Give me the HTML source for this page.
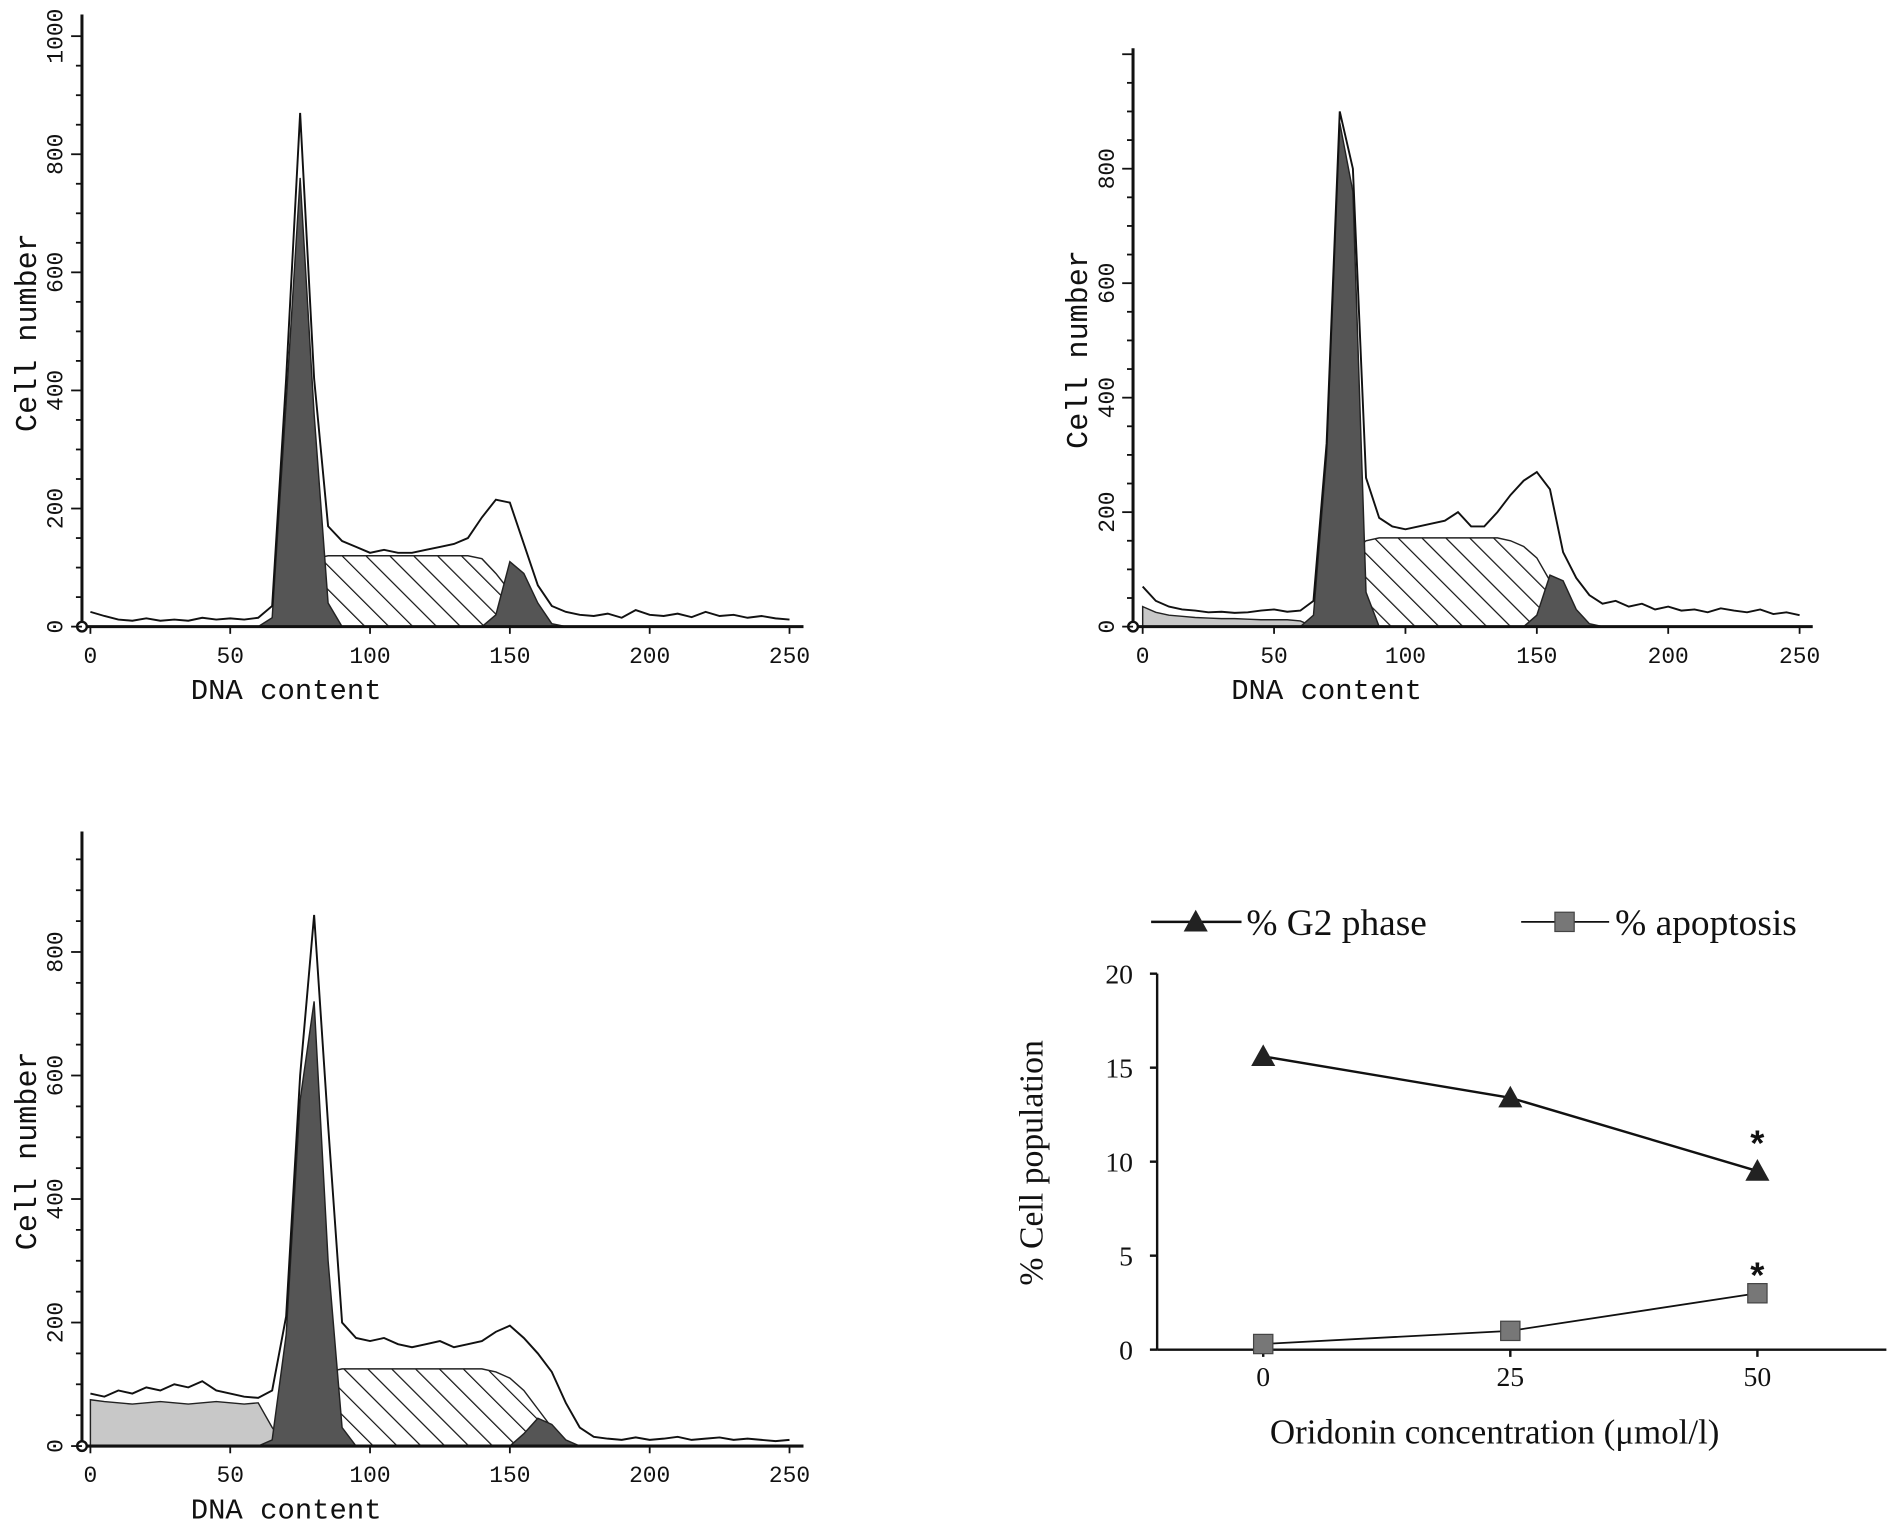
<!DOCTYPE html>
<html><head><meta charset="utf-8"><style>
html,body{margin:0;padding:0;background:#fff}
svg{display:block}
text{font-family:"Liberation Mono",monospace;fill:#111}
.ser{font-family:"Liberation Serif",serif}
</style></head><body>
<svg id="fig" width="1890" height="1528" viewBox="0 0 1568 1268" preserveAspectRatio="none" xmlns="http://www.w3.org/2000/svg">
<defs>
<pattern id="hatch" patternUnits="userSpaceOnUse" width="14" height="14" patternTransform="rotate(-45)">
<rect width="14" height="14" fill="#fff"/><line x1="0" y1="0" x2="0" y2="14" stroke="#111" stroke-width="2"/>
</pattern>
</defs>
</svg>
<script>
// ---- histogram data (DNA content bins of 5) ----
const bins=[0,5,10,15,20,25,30,35,40,45,50,55,60,65,70,75,80,85,90,95,100,105,110,115,120,125,130,135,140,145,150,155,160,165,170,175,180,185,190,195,200,205,210,215,220,225,230,235,240,245,250];
const h1Outline=[25,18,12,10,14,10,12,10,15,12,14,12,15,35,420,870,420,170,145,135,125,130,125,125,130,135,140,150,185,215,210,140,70,35,25,20,18,22,15,28,20,18,22,16,25,18,20,15,18,14,12];
const h1G1=[0,0,0,0,0,0,0,0,0,0,0,0,0,15,380,760,360,40,0,0,0,0,0,0,0,0,0,0,0,0,0,0,0,0,0,0,0,0,0,0,0,0,0,0,0,0,0,0,0,0,0];
const h1S=[0,0,0,0,0,0,0,0,0,0,0,0,0,0,10,70,115,120,120,120,120,120,120,120,120,120,120,120,115,90,60,30,10,0,0,0,0,0,0,0,0,0,0,0,0,0,0,0,0,0,0];
const h1G2=[0,0,0,0,0,0,0,0,0,0,0,0,0,0,0,0,0,0,0,0,0,0,0,0,0,0,0,0,0,20,110,90,40,5,0,0,0,0,0,0,0,0,0,0,0,0,0,0,0,0,0];
const h1Apo=[0,0,0,0,0,0,0,0,0,0,0,0,0,0,0,0,0,0,0,0,0,0,0,0,0,0,0,0,0,0,0,0,0,0,0,0,0,0,0,0,0,0,0,0,0,0,0,0,0,0,0];

const h2Outline=[70,45,35,30,28,25,26,24,25,28,30,26,28,45,320,900,800,260,190,175,170,175,180,185,200,175,175,200,230,255,270,240,130,85,55,40,45,35,40,30,35,28,30,25,32,28,25,30,22,25,20];
const h2G1=[0,0,0,0,0,0,0,0,0,0,0,0,0,20,300,880,760,60,0,0,0,0,0,0,0,0,0,0,0,0,0,0,0,0,0,0,0,0,0,0,0,0,0,0,0,0,0,0,0,0,0];
const h2S=[0,0,0,0,0,0,0,0,0,0,0,0,0,0,10,60,130,150,155,155,155,155,155,155,155,155,155,155,150,140,120,80,40,10,0,0,0,0,0,0,0,0,0,0,0,0,0,0,0,0,0];
const h2G2=[0,0,0,0,0,0,0,0,0,0,0,0,0,0,0,0,0,0,0,0,0,0,0,0,0,0,0,0,0,0,20,90,80,30,5,0,0,0,0,0,0,0,0,0,0,0,0,0,0,0,0];
const h2Apo=[35,25,20,18,16,15,14,14,13,12,12,12,10,0,0,0,0,0,0,0,0,0,0,0,0,0,0,0,0,0,0,0,0,0,0,0,0,0,0,0,0,0,0,0,0,0,0,0,0,0,0];

const h3Outline=[85,80,90,85,95,90,100,95,105,90,85,80,78,90,210,600,860,520,200,175,170,175,165,160,165,170,160,165,170,185,195,175,150,120,70,30,15,12,10,14,10,12,15,10,12,14,10,12,10,8,10];
const h3G1=[0,0,0,0,0,0,0,0,0,0,0,0,0,10,180,560,720,300,30,0,0,0,0,0,0,0,0,0,0,0,0,0,0,0,0,0,0,0,0,0,0,0,0,0,0,0,0,0,0,0,0];
const h3S=[0,0,0,0,0,0,0,0,0,0,0,0,0,0,0,20,80,120,125,125,125,125,125,125,125,125,125,125,125,120,110,90,60,30,0,0,0,0,0,0,0,0,0,0,0,0,0,0,0,0,0];
const h3G2=[0,0,0,0,0,0,0,0,0,0,0,0,0,0,0,0,0,0,0,0,0,0,0,0,0,0,0,0,0,0,0,20,45,35,10,0,0,0,0,0,0,0,0,0,0,0,0,0,0,0,0];
const h3Apo=[75,72,70,68,70,72,70,68,70,72,70,68,70,30,0,0,0,0,0,0,0,0,0,0,0,0,0,0,0,0,0,0,0,0,0,0,0,0,0,0,0,0,0,0,0,0,0,0,0,0,0];

// ---- line chart data ----
const concentrations=[0,25,50];
const g2Values=[15.6,13.4,9.5];
const apoValues=[0.3,1.0,3.0];
const lineYTicks=[0,5,10,15,20];
const histXTicks=[0,50,100,150,200,250];

const NS="http://www.w3.org/2000/svg";
const svg=document.getElementById('fig');
function el(tag,attrs,parent){const e=document.createElementNS(NS,tag);for(const k in attrs)e.setAttribute(k,attrs[k]);(parent||svg).appendChild(e);return e;}

function drawHist(id,cfg,outline,g1,s,g2,apo){
  const g=el('g',{});
  
  
  const X=v=>cfg.x0+v*cfg.sx, Y=v=>cfg.y0-v*cfg.sy;
  function area(arr,fill,name){
    let d='M'+X(bins[0])+','+Y(0);
    arr.forEach((v,i)=>{d+=' L'+X(bins[i])+','+Y(v);});
    d+=' L'+X(bins[bins.length-1])+','+Y(0)+'Z';
    const p=el('path',{d:d,fill:fill,stroke:'#222','stroke-width':1.2},g);
    
    
  }
  area(apo,'#c8c8c8',id+'-apoptosis-fill');
  area(s,'url(#hatch)',id+'-s-phase-fill');
  area(g1,'#555',id+'-g1-peak');
  area(g2,'#555',id+'-g2-peak');
  let d='';
  outline.forEach((v,i)=>{d+=(i?' L':'M')+X(bins[i])+','+Y(v);});
  const o=el('path',{d:d,fill:'none',stroke:'#111','stroke-width':1.6},g);
  
  
  el('line',{x1:cfg.ax,y1:cfg.top,x2:cfg.ax,y2:cfg.y0,stroke:'#111','stroke-width':2.5},g);
  el('line',{x1:cfg.ax,y1:cfg.y0,x2:X(255),y2:cfg.y0,stroke:'#111','stroke-width':2.5},g);
  el('circle',{cx:cfg.ax,cy:cfg.y0,r:4,fill:'#fff',stroke:'#111','stroke-width':2},g);
  for(let v=0;v*cfg.sy<=cfg.y0-cfg.top;v+=50){
    el('line',{x1:cfg.ax-(v%200?5:9),y1:Y(v),x2:cfg.ax,y2:Y(v),stroke:'#111','stroke-width':1.5},g);
  }
  cfg.yTicks.forEach(v=>{
    const t=el('text',{x:0,y:0,'font-size':19,'text-anchor':'middle',transform:`translate(${cfg.ax-16},${Y(v)}) rotate(-90)`},g);
    t.textContent=v;
  });
  histXTicks.forEach(v=>{
    el('line',{x1:X(v),y1:cfg.y0,x2:X(v),y2:cfg.y0+6,stroke:'#111','stroke-width':1.5},g);
    const t=el('text',{x:X(v),y:cfg.y0+30,'font-size':19,'text-anchor':'middle'},g);
    t.textContent=v;
  });
  const xl=el('text',{x:X(70),y:cfg.y0+60,'font-size':24,'text-anchor':'middle'},g);
  
  
  xl.textContent='DNA content';
  const yl=el('text',{x:0,y:0,'font-size':25,'text-anchor':'middle',transform:`translate(${cfg.ax-38},${(cfg.top+cfg.y0)/2+10}) rotate(-90)`},g);
  
  
  yl.textContent='Cell number';
}
drawHist('histogram-control',{ax:68,x0:75,sx:2.32,y0:520,sy:0.49,top:12,yTicks:[0,200,400,600,800,1000]},h1Outline,h1G1,h1S,h1G2,h1Apo);
drawHist('histogram-25',{ax:940,x0:948,sx:2.18,y0:520,sy:0.475,top:40,yTicks:[0,200,400,600,800]},h2Outline,h2G1,h2S,h2G2,h2Apo);
drawHist('histogram-50',{ax:68,x0:75,sx:2.32,y0:1200,sy:0.5125,top:690,yTicks:[0,200,400,600,800]},h3Outline,h3G1,h3S,h3G2,h3Apo);

(function(){
  const g=el('g',{});
  
  
  const X=v=>1048+v*8.2, Y=v=>1120-v*15.6;
  el('line',{x1:960,y1:808,x2:960,y2:1120,stroke:'#111','stroke-width':2},g);
  el('line',{x1:960,y1:1120,x2:1565,y2:1120,stroke:'#111','stroke-width':2},g);
  lineYTicks.forEach(v=>{
    el('line',{x1:954,y1:Y(v),x2:960,y2:Y(v),stroke:'#111','stroke-width':2},g);
    const t=el('text',{x:940,y:Y(v)+8,'font-size':23,'text-anchor':'end','class':'ser'},g);t.textContent=v;
  });
  concentrations.forEach(v=>{
    el('line',{x1:X(v),y1:1120,x2:X(v),y2:1126,stroke:'#111','stroke-width':2},g);
    const t=el('text',{x:X(v),y:1150,'font-size':23,'text-anchor':'middle','class':'ser'},g);t.textContent=v;
  });
  const yl=el('text',{x:0,y:0,'font-size':28,'text-anchor':'middle','class':'ser',transform:'translate(865,965) rotate(-90)'},g);
  yl.textContent='% Cell population';
  const xl=el('text',{x:1240,y:1198,'font-size':29,'text-anchor':'middle','class':'ser'},g);
  xl.textContent='Oridonin concentration (μmol/l)';
  let d='';concentrations.forEach((c,i)=>{d+=(i?' L':'M')+X(c)+','+Y(g2Values[i]);});
  el('path',{d:d,fill:'none',stroke:'#111','stroke-width':2},g);
  concentrations.forEach((c,i)=>{
    const p=el('path',{d:`M${X(c)-10},${Y(g2Values[i])+8} L${X(c)},${Y(g2Values[i])-10} L${X(c)+10},${Y(g2Values[i])+8}Z`,fill:'#222'},g);
    
  });
  d='';concentrations.forEach((c,i)=>{d+=(i?' L':'M')+X(c)+','+Y(apoValues[i]);});
  el('path',{d:d,fill:'none',stroke:'#111','stroke-width':1.5},g);
  concentrations.forEach((c,i)=>{
    const r=el('rect',{x:X(c)-8,y:Y(apoValues[i])-8,width:16,height:16,fill:'#777',stroke:'#444','stroke-width':1},g);
    
  });
  const s1=el('text',{x:X(50),y:Y(g2Values[2])-12,'font-size':30,'text-anchor':'middle','font-weight':'bold'},g);s1.textContent='*';
  const s2=el('text',{x:X(50),y:Y(apoValues[2])-4,'font-size':30,'text-anchor':'middle','font-weight':'bold'},g);s2.textContent='*';
  const lg=el('g',{},g);
  
  el('line',{x1:955,y1:765,x2:1030,y2:765,stroke:'#111','stroke-width':2},lg);
  el('path',{d:'M982,773 L992,755 L1002,773Z',fill:'#222'},lg);
  const t1=el('text',{x:1034,y:776,'font-size':31,'class':'ser'},lg);t1.textContent='% G2 phase';
  el('line',{x1:1262,y1:765,x2:1335,y2:765,stroke:'#111','stroke-width':1.5},lg);
  el('rect',{x:1290,y:757,width:16,height:16,fill:'#777',stroke:'#444'},lg);
  const t2=el('text',{x:1340,y:776,'font-size':31,'class':'ser'},lg);t2.textContent='% apoptosis';
})();
</script>
</body></html>
